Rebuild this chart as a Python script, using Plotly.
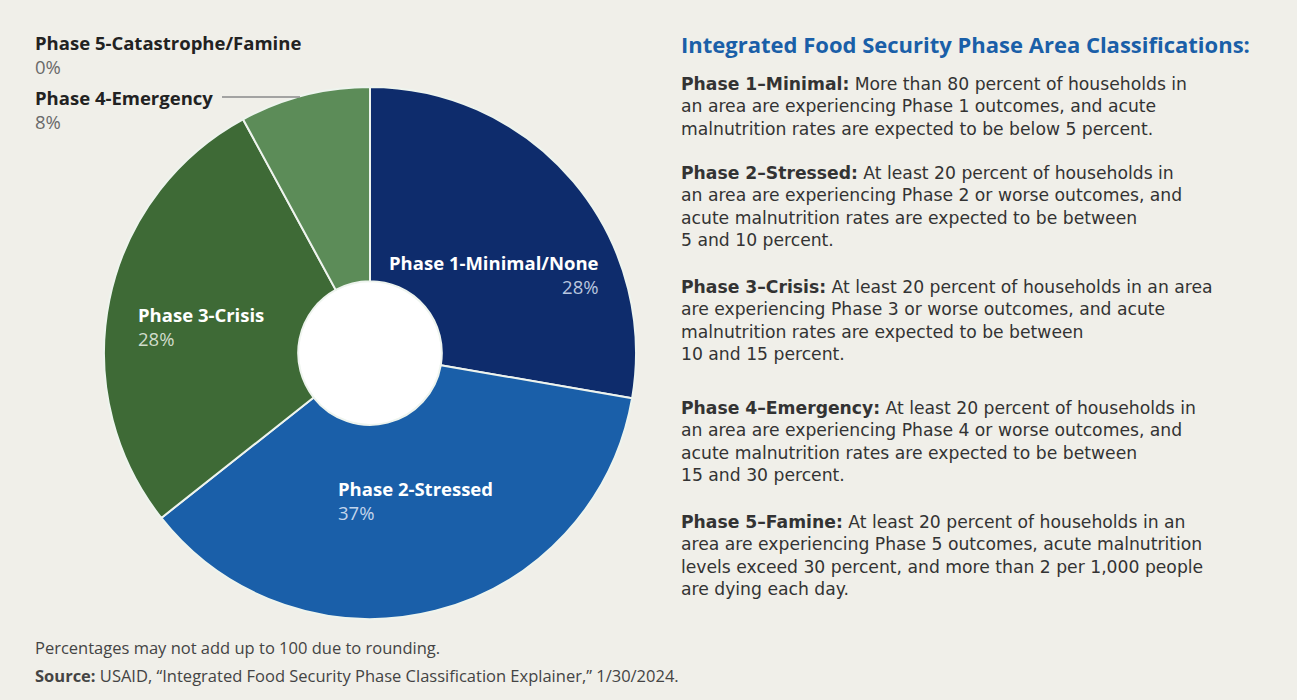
import plotly.graph_objects as go

W, H = 1297, 700

# ---- data ----
phases = ["Phase 1-Minimal/None", "Phase 2-Stressed", "Phase 3-Crisis",
          "Phase 4-Emergency", "Phase 5-Catastrophe/Famine"]
shares = [28, 37, 28, 8, 0]
slice_colors = ["#0e2c6c", "#1a5fa9", "#3e6a36", "#5c8c58", "#8fb08a"]

title_text = "Integrated Food Security Phase Area Classifications:"
desc_heads = ["Phase 1\u2013Minimal:", "Phase 2\u2013Stressed:", "Phase 3\u2013Crisis:",
              "Phase 4\u2013Emergency:", "Phase 5\u2013Famine:"]
desc_lines = [
    ["More than 80 percent of households in",
     "an area are experiencing Phase 1 outcomes, and acute",
     "malnutrition rates are expected to be below 5 percent."],
    ["At least 20 percent of households in",
     "an area are experiencing Phase 2 or worse outcomes, and",
     "acute malnutrition rates are expected to be between",
     "5 and 10 percent."],
    ["At least 20 percent of households in an area",
     "are experiencing Phase 3 or worse outcomes, and acute",
     "malnutrition rates are expected to be between",
     "10 and 15 percent."],
    ["At least 20 percent of households in",
     "an area are experiencing Phase 4 or worse outcomes, and",
     "acute malnutrition rates are expected to be between",
     "15 and 30 percent."],
    ["At least 20 percent of households in an",
     "area are experiencing Phase 5 outcomes, acute malnutrition",
     "levels exceed 30 percent, and more than 2 per 1,000 people",
     "are dying each day."],
]
note_text = "Percentages may not add up to 100 due to rounding."
source_text = "<b>Source:</b> USAID, \u201cIntegrated Food Security Phase Classification Explainer,\u201d 1/30/2024."

FONT = "Open Sans"
BODY_FONT = "DejaVu Sans"
BG = "#f0efe9"


def px(x):
    return x / W


def py(y):
    return 1 - y / H


# pie geometry (pixels)
cx, cy, R = 370, 353, 266

fig = go.Figure()
fig.add_trace(go.Pie(
    labels=phases, values=shares, sort=False, direction="clockwise", rotation=0,
    hole=0.27, textinfo="none", hoverinfo="label+percent",
    marker=dict(colors=slice_colors, line=dict(color="#eef4ee", width=2)),
    domain=dict(x=[px(cx - R), px(cx + R)], y=[py(cy + R), py(cy - R)]),
    showlegend=False,
))

ann = []


def add(text, x, y, size, color, xanchor="left", family=FONT):
    ann.append(dict(text=text, x=px(x), y=py(y), align=xanchor,
                    xref="paper", yref="paper", xanchor=xanchor, yanchor="middle",
                    showarrow=False, font=dict(family=family, size=size, color=color)))


LAB = 18.5  # line spacing 1.3*18.5 = 24 px


def slice_label(name, pct, x, y_first, name_col, pct_col, xanchor="left"):
    txt = f"<b>{name}</b><br><span style='color:{pct_col}'>{pct}%</span>"
    add(txt, x, y_first + LAB * 1.3 / 2, LAB, name_col, xanchor)


# outside labels
slice_label(phases[4], shares[4], 33, 42, "#222222", "#6a6a6a")
slice_label(phases[3], shares[3], 33, 97, "#222222", "#6a6a6a")
# inside labels
slice_label(phases[0], shares[0], 601, 262, "#ffffff", "#b9c6df", "right")
slice_label(phases[2], shares[2], 136, 314, "#ffffff", "#d0dccb")
slice_label(phases[1], shares[1], 336, 488, "#ffffff", "#c3d5ec")

# right text block
add(f"<b>{title_text}</b>", 679, 44, 22, "#1a5fa8")
starts = [84, 173, 287, 408, 522]
BODY = 17.2  # line spacing 1.3*17.2 = 22.4 px
for head, lines, y0 in zip(desc_heads, desc_lines, starts):
    body = "<br>".join([f"<b>{head}</b> {lines[0]}"] + lines[1:])
    ymid = y0 + (len(lines) - 1) * BODY * 1.3 / 2
    add(body, 679, ymid, BODY, "#333333", family=BODY_FONT)

add(note_text, 33, 647, 16.5, "#444444")
add(source_text, 33, 675, 16.5, "#444444")

fig.update_layout(
    width=W, height=H, margin=dict(l=0, r=0, t=0, b=0),
    paper_bgcolor=BG, plot_bgcolor=BG,
    annotations=ann,
    shapes=[
        dict(type="circle", xref="paper", yref="paper", layer="below",
             x0=px(cx - 80), x1=px(cx + 80), y0=py(cy + 80), y1=py(cy - 80),
             fillcolor="#ffffff", line=dict(width=0)),
        dict(type="line", xref="paper", yref="paper",
             x0=px(222), x1=px(300), y0=py(97), y1=py(97),
             line=dict(color="#8a8a8a", width=1.5)),
    ],
)

fig.write_html("out.html", config=dict(displayModeBar=False),
               post_script="document.body.style.margin='0';document.body.style.overflow='hidden';")
